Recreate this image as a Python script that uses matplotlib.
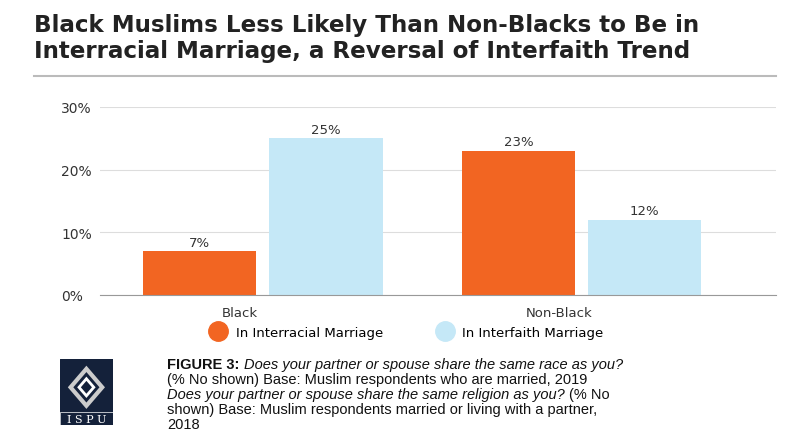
import matplotlib
matplotlib.use("Agg")
import matplotlib.pyplot as plt
import numpy as np
from matplotlib.patches import Rectangle, Polygon
from matplotlib.lines import Line2D
from matplotlib import font_manager

categories = ["Black", "Non-Black"]
interracial = [7, 23]
interfaith = [25, 12]
yticks = [0, 10, 20, 30]
orange = "#f26522"
blue = "#c5e8f7"

names = {f.name for f in font_manager.fontManager.ttflist}
narrow = "Liberation Sans Narrow" if "Liberation Sans Narrow" in names else "Liberation Sans"

fig = plt.figure(figsize=(8, 4.39), dpi=100)
fig.patch.set_facecolor("white")
fig.text(0.042, 0.968, "Black Muslims Less Likely Than Non-Blacks to Be in\nInterracial Marriage, a Reversal of Interfaith Trend",
         fontsize=16.6, fontweight="bold", va="top", ha="left", color="#222222", linespacing=1.15, family="DejaVu Sans")
fig.add_artist(plt.Line2D([0.042, 0.97], [0.825, 0.825], color="#bbbbbb", lw=1.5))

ax = fig.add_axes([0.125, 0.326, 0.845, 0.428])
x = np.arange(len(categories))
w = 0.356
b1 = ax.bar(x - w/2 - 0.02, interracial, w, color=orange)
b2 = ax.bar(x + w/2 + 0.02, interfaith, w, color=blue)
for bars, vals in ((b1, interracial), (b2, interfaith)):
    for r, v in zip(bars, vals):
        ax.text(r.get_x() + r.get_width()/2, v + 0.4, f"{v}%", ha="center", va="bottom", fontsize=9.5, color="#333333")
ax.set_xlim(-0.51, 1.61)
ax.set_ylim(0, 30)
ax.set_yticks(yticks)
ax.set_yticklabels([f"{t}%" for t in yticks], fontsize=10, color="#333333")
ax.set_xticks(x - 0.07)
ax.set_xticklabels(categories, fontsize=9.5, color="#333333")
ax.tick_params(length=0, pad=8)
ax.tick_params(axis="y", pad=28)
for t in ax.get_yticklabels():
    t.set_ha("left")
ax.grid(axis="y", color="#dddddd", lw=0.8)
ax.set_axisbelow(True)
for s in ["top", "right", "left"]:
    ax.spines[s].set_visible(False)
ax.spines["bottom"].set_color("#999999")

h1 = Line2D([], [], marker="o", ls="none", color=orange, markersize=14)
h2 = Line2D([], [], marker="o", ls="none", color=blue, markersize=14)
ax.legend([h1, h2], ["In Interracial Marriage", "In Interfaith Marriage"], loc="center",
          bbox_to_anchor=(0.455, -0.2), ncol=2, frameon=False, fontsize=9.5, handlelength=1.0,
          columnspacing=4.2, handletextpad=0.8)

# logo
lax = fig.add_axes([0.075, 0.03, 0.066, 0.15])
lax.set_xlim(0, 1); lax.set_ylim(0, 1); lax.axis("off")
lax.add_patch(Rectangle((0, 0), 1, 1, color="#14213a"))
lax.add_patch(Polygon([(0.5, 0.85), (0.8, 0.57), (0.5, 0.29), (0.2, 0.57)], closed=True, fc="none", ec="#cccccc", lw=3))
lax.add_patch(Polygon([(0.5, 0.7), (0.64, 0.57), (0.5, 0.44), (0.36, 0.57)], closed=True, fc="#14213a", ec="white", lw=2))
lax.add_patch(Rectangle((0, 0), 1, 0.2, color="#14213a", ec="white", lw=0.5))
lax.text(0.5, 0.09, "I S P U", ha="center", va="center", color="white", fontsize=8, family="DejaVu Serif")

fs = 10.5
fig.canvas.draw()
r = fig.canvas.get_renderer()
def seg(parts, y):
    xx = 0.209
    for txt, kw in parts:
        t = fig.text(xx, y, txt, fontsize=fs, va="baseline", color="#111111", family=narrow, **kw)
        bb = t.get_window_extent(r)
        xx += bb.width / 800
lines = [
    [("FIGURE 3: ", dict(fontweight="bold")), ("Does your partner or spouse share the same race as you?", dict(style="italic"))],
    [("(% No shown) Base: Muslim respondents who are married, 2019", {})],
    [("Does your partner or spouse share the same religion as you? ", dict(style="italic")), ("(% No", {})],
    [("shown) Base: Muslim respondents married or living with a partner,", {})],
    [("2018", {})],
]
for i, p in enumerate(lines):
    seg(p, 1 - (369 + 15 * i) / 439)

fig.savefig("out.png", dpi=100)
